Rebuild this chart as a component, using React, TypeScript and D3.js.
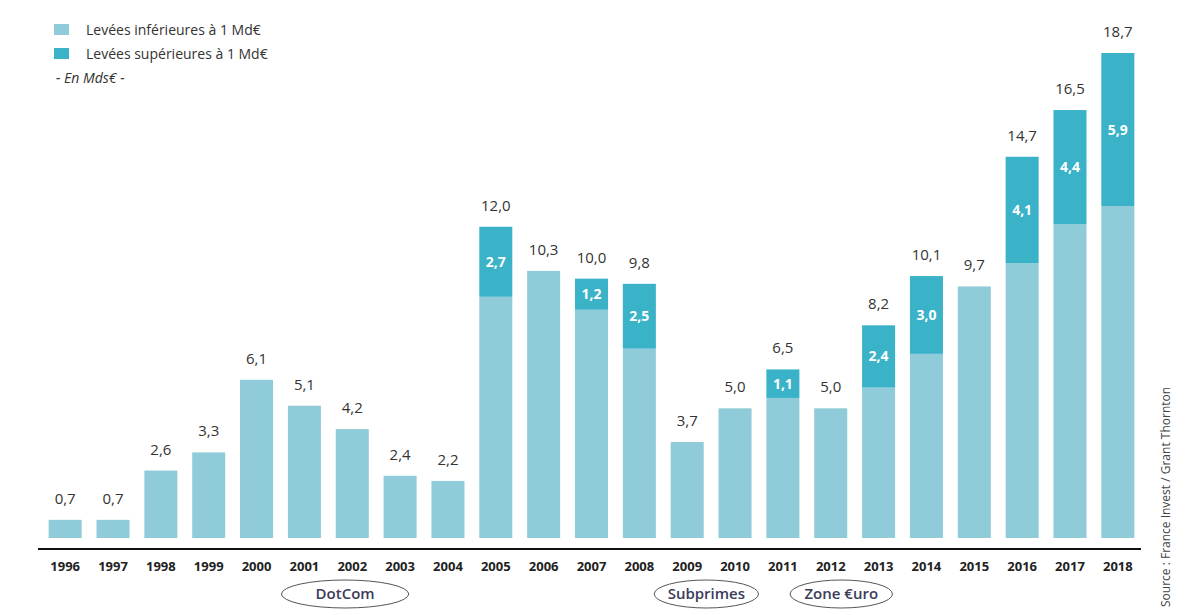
import React from 'react';
import * as d3 from 'd3';

const years = ['1996', '1997', '1998', '1999', '2000', '2001', '2002', '2003', '2004', '2005', '2006', '2007', '2008', '2009', '2010', '2011', '2012', '2013', '2014', '2015', '2016', '2017', '2018'];
const totals = [0.7, 0.7, 2.6, 3.3, 6.1, 5.1, 4.2, 2.4, 2.2, 12.0, 10.3, 10.0, 9.8, 3.7, 5.0, 6.5, 5.0, 8.2, 10.1, 9.7, 14.7, 16.5, 18.7];
const above = [0, 0, 0, 0, 0, 0, 0, 0, 0, 2.7, 0, 1.2, 2.5, 0, 0, 1.1, 0, 2.4, 3.0, 0, 4.1, 4.4, 5.9];
// position of each crisis badge, in bar steps from the 1996 bar, and its half-width in steps
const crises = [
  { label: 'DotCom', at: 5.85, half: 1.33 },
  { label: 'Subprimes', at: 13.4, half: 1.09 },
  { label: 'Zone €uro', at: 16.22, half: 1.07 },
];

const W = 1200;
const H = 615;
const LIGHT = '#8fcbd8';
const DARK = '#3ab2c8';
const FONT = "'Open Sans', 'DejaVu Sans', sans-serif";

const fmt = (v: number) => v.toFixed(1).replace('.', ',');

export default function App() {
  const x = d3.scaleBand().domain(years).range([41, 1142]).paddingInner(0.31).paddingOuter(0.16);
  const y = d3.scaleLinear().domain([0, 18.7]).range([538, 53]);
  const bw = x.bandwidth();
  const step = x.step();
  const c0 = x(years[0])! + bw / 2;

  return (
    <svg width={W} height={H} style={{ position: 'absolute', left: 0, top: 0, background: '#fff' }} fontFamily={FONT}>
      {/* legend */}
      <rect x={54} y={24} width={15} height={11} fill={LIGHT} />
      <text x={86} y={35} fontSize={14} fill="#333">Levées inférieures à 1 Md€</text>
      <rect x={54} y={48} width={15} height={11} fill={DARK} />
      <text x={86} y={59} fontSize={14} fill="#333">Levées supérieures à 1 Md€</text>
      <text x={56} y={83} fontSize={14} fill="#333" fontStyle="italic">-  En Mds€  -</text>

      {years.map((yr, i) => {
        const lower = +(totals[i] - above[i]).toFixed(1);
        const bx = x(yr)!;
        return (
          <g key={yr}>
            <rect x={bx} y={y(lower)} width={bw} height={y(0) - y(lower)} fill={LIGHT} />
            {above[i] > 0 && (
              <>
                <rect x={bx} y={y(totals[i])} width={bw} height={y(lower) - y(totals[i])} fill={DARK} />
                <text x={bx + bw / 2} y={(y(totals[i]) + y(lower)) / 2 + 5} textAnchor="middle" fontSize={14} fontWeight="bold" fill="#fff">
                  {fmt(above[i])}
                </text>
              </>
            )}
            <text x={bx + bw / 2} y={y(totals[i]) - 16} textAnchor="middle" fontSize={15} fill="#333">
              {fmt(totals[i])}
            </text>
            <text x={bx + bw / 2} y={571} textAnchor="middle" fontSize={13} fontWeight="bold" fill="#222">
              {yr}
            </text>
          </g>
        );
      })}

      <line x1={38} x2={1141} y1={549} y2={549} stroke="#111" strokeWidth={2} />

      {crises.map((c) => {
        const cx = c0 + c.at * step;
        return (
          <g key={c.label}>
            <ellipse cx={cx} cy={594} rx={c.half * step} ry={14} fill="none" stroke="#555" strokeWidth={1} />
            <text x={cx} y={599} textAnchor="middle" fontSize={15} fontWeight={600} fill="#3b3b5a">{c.label}</text>
          </g>
        );
      })}

      <text transform="translate(1170,607) rotate(-90)" fontSize={12} fill="#444">Source : France Invest / Grant Thornton</text>
    </svg>
  );
}
